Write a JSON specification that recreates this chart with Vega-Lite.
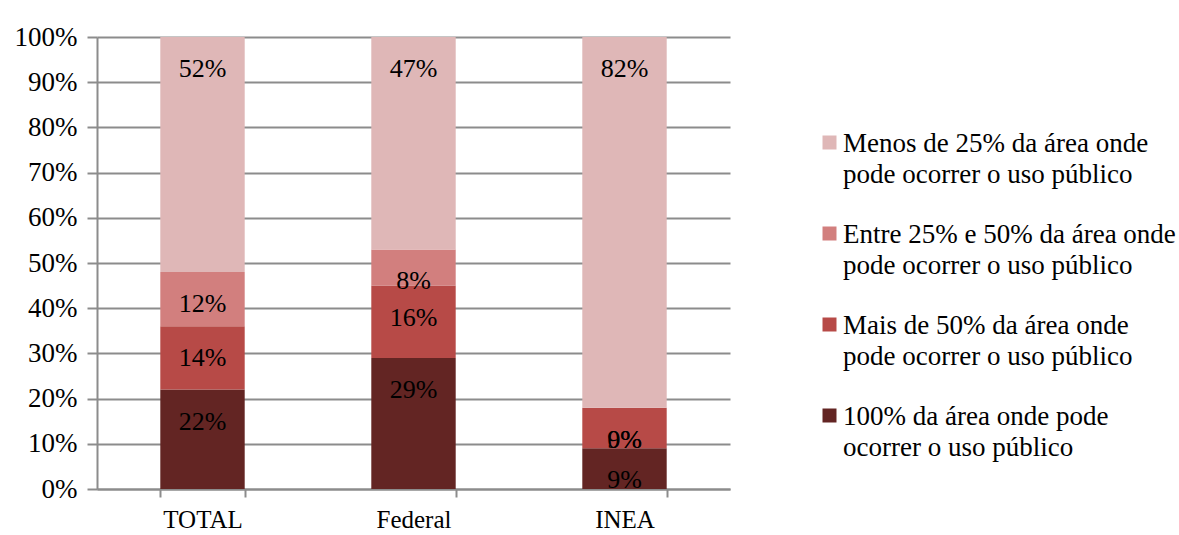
{
  "$schema": "https://vega.github.io/schema/vega-lite/v6.json",
  "width": 633,
  "height": 452,
  "autosize": {"type": "none"},
  "padding": {"left": 97, "top": 37, "right": 449, "bottom": 46},
  "background": "white",
  "config": {"view": {"stroke": null}},
  "data": {
    "values": [
      {"cat": "TOTAL", "serie": "100% da área onde pode|ocorrer o uso público", "ord": 1, "pct": 22},
      {"cat": "TOTAL", "serie": "Mais de 50% da área onde|pode ocorrer o uso público", "ord": 2, "pct": 14},
      {"cat": "TOTAL", "serie": "Entre 25% e 50% da área onde|pode ocorrer o uso público", "ord": 3, "pct": 12},
      {"cat": "TOTAL", "serie": "Menos de 25% da área onde|pode ocorrer o uso público", "ord": 4, "pct": 52},
      {"cat": "Federal", "serie": "100% da área onde pode|ocorrer o uso público", "ord": 1, "pct": 29},
      {"cat": "Federal", "serie": "Mais de 50% da área onde|pode ocorrer o uso público", "ord": 2, "pct": 16},
      {"cat": "Federal", "serie": "Entre 25% e 50% da área onde|pode ocorrer o uso público", "ord": 3, "pct": 8},
      {"cat": "Federal", "serie": "Menos de 25% da área onde|pode ocorrer o uso público", "ord": 4, "pct": 47},
      {"cat": "INEA", "serie": "100% da área onde pode|ocorrer o uso público", "ord": 1, "pct": 9},
      {"cat": "INEA", "serie": "Mais de 50% da área onde|pode ocorrer o uso público", "ord": 2, "pct": 9},
      {"cat": "INEA", "serie": "Entre 25% e 50% da área onde|pode ocorrer o uso público", "ord": 3, "pct": 0},
      {"cat": "INEA", "serie": "Menos de 25% da área onde|pode ocorrer o uso público", "ord": 4, "pct": 82}
    ]
  },
  "transform": [
    {"stack": "pct", "groupby": ["cat"], "sort": [{"field": "ord", "order": "ascending"}], "as": ["y0", "y1"]},
    {"calculate": "datum.pct + '%'", "as": "label"}
  ],
  "encoding": {
    "x": {
      "field": "cat",
      "type": "nominal",
      "sort": ["TOTAL", "Federal", "INEA"],
      "scale": {"paddingInner": 0.6, "paddingOuter": 0.3},
      "axis": {
        "title": null,
        "labelAngle": 0,
        "tickBand": "extent",
        "domainColor": "#8c8c8c",
        "domainWidth": 2,
        "tickColor": "#8c8c8c",
        "tickWidth": 2,
        "tickSize": 8,
        "labelFont": "Liberation Serif",
        "labelFontSize": 25,
        "labelColor": "#000000",
        "labelPadding": 10
      }
    }
  },
  "layer": [
    {
      "mark": {"type": "bar"},
      "encoding": {
        "y": {
          "field": "y0",
          "type": "quantitative",
          "scale": {"domain": [0, 100], "nice": false},
          "axis": {
            "title": null,
            "values": [0, 10, 20, 30, 40, 50, 60, 70, 80, 90, 100],
            "labelExpr": "datum.value + '%'",
            "grid": true,
            "gridColor": "#8c8c8c",
            "gridWidth": 2,
            "domainColor": "#8c8c8c",
            "domainWidth": 2,
            "tickColor": "#8c8c8c",
            "tickWidth": 2,
            "tickSize": 10,
            "labelFont": "Liberation Serif",
            "labelFontSize": 27,
            "labelColor": "#000000",
            "labelPadding": 10
          }
        },
        "y2": {"field": "y1"},
        "color": {
          "field": "serie",
          "type": "nominal",
          "scale": {
            "domain": [
              "Menos de 25% da área onde|pode ocorrer o uso público",
              "Entre 25% e 50% da área onde|pode ocorrer o uso público",
              "Mais de 50% da área onde|pode ocorrer o uso público",
              "100% da área onde pode|ocorrer o uso público"
            ],
            "range": ["#DFB7B7", "#D27F7E", "#B74A47", "#632523"]
          },
          "legend": {
            "orient": "none",
            "legendX": 719,
            "legendY": 92,
            "title": null,
            "labelExpr": "split(datum.label, '|')",
            "labelFont": "Liberation Serif",
            "labelFontSize": 27,
            "labelColor": "#000000",
            "labelLimit": 0,
            "labelBaseline": "alphabetic",
            "labelOffset": 0,
            "symbolType": "square",
            "symbolSize": 196,
            "symbolStrokeWidth": 0,
            "rowPadding": 32,
            "encode": {
              "labels": {
                "update": {
                  "dy": {"value": 9},
                  "lineHeight": {"value": 31}
                }
              }
            }
          }
        },
        "order": {"field": "ord", "type": "quantitative"}
      }
    },
    {
      "mark": {"type": "text", "baseline": "middle", "dy": 32, "font": "Liberation Serif", "fontSize": 26, "color": "#000000"},
      "encoding": {
        "y": {"field": "y1", "type": "quantitative"},
        "text": {"field": "label"}
      }
    }
  ]
}
